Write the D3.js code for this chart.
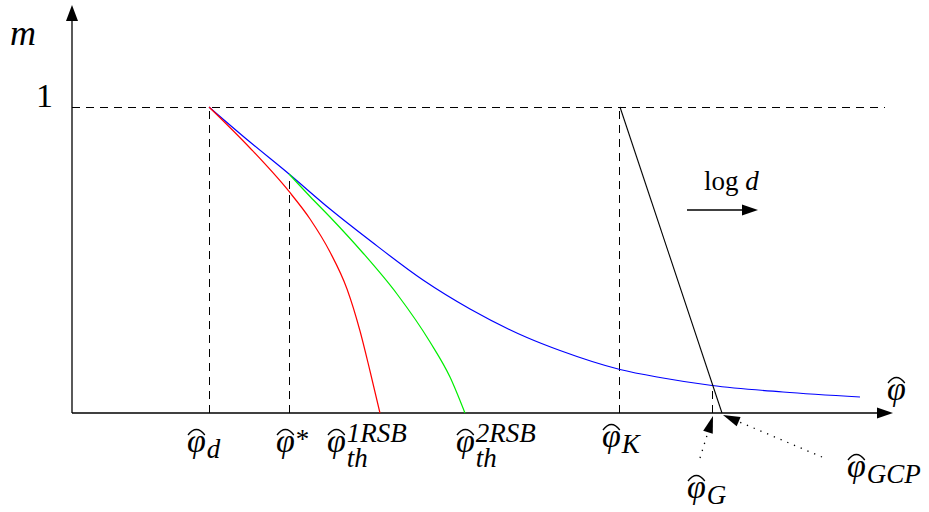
<!DOCTYPE html>
<html>
<head>
<meta charset="utf-8">
<script src="https://cdn.jsdelivr.net/npm/d3@7"></script>
<style>
  body { margin: 0; background: #fff; }
  text { font-family: "Liberation Serif", "DejaVu Serif", serif; fill: #000; }
</style>
</head>
<body>
<div id="chart"></div>
<script>
// m versus reduced packing fraction (schematic)
var blueCurve = [
  [0.1675, 1.0], [0.2176, 0.8856], [0.2653, 0.7810], [0.3154, 0.6667],
  [0.3643, 0.5637], [0.4291, 0.4346], [0.4866, 0.3399], [0.5562, 0.2467],
  [0.5966, 0.2042], [0.6699, 0.1422], [0.7188, 0.1160], [0.7824, 0.0899],
  [0.8692, 0.0686], [0.9633, 0.0523]
]
var redCurve = [
  [0.1675, 1.0], [0.2176, 0.8660], [0.2653, 0.7239], [0.2910, 0.6340],
  [0.3154, 0.5261], [0.3362, 0.4052], [0.3521, 0.2680], [0.3643, 0.1373],
  [0.3765, 0.0]
]
var greenCurve = [
  [0.2653, 0.7810], [0.2910, 0.7075], [0.3154, 0.6405], [0.3557, 0.5229],
  [0.3973, 0.3889], [0.4377, 0.2320], [0.4621, 0.1176], [0.4804, 0.0]
]

var phiD = 0.1675
var phiStar = 0.2653
var phiTh1 = 0.3765
var phiTh2 = 0.4804
var phiK = 0.6699
var phiG = 0.7824
var phiGCP = 0.7946

// dashed guides: [phi, top m]
var guides = [[phiD, 1.0], [phiStar, 0.7810], [phiK, 1.0], [phiG, 0.0899]]
var kauzmannLine = [[phiK, 1.0], [phiGCP, 0.0]]

var width = 929
var height = 512

var x = d3.scaleLinear().domain([0, 1]).range([72, 890])
var y = d3.scaleLinear().domain([0, 1]).range([413, 107])

var svg = d3.select('#chart').append('svg')
  .attr('width', width)
  .attr('height', height)

function arrowHead (tip, dir, len, half) {
  var n = Math.sqrt(dir[0] * dir[0] + dir[1] * dir[1])
  var ux = dir[0] / n
  var uy = dir[1] / n
  var bx = tip[0] - ux * len
  var by = tip[1] - uy * len
  svg.append('path')
    .attr('d', 'M' + tip[0] + ',' + tip[1] +
      'L' + (bx - uy * half) + ',' + (by + ux * half) +
      'L' + (bx + uy * half) + ',' + (by - ux * half) + 'Z')
    .attr('fill', '#000')
}

// dashed m = 1 line
svg.append('line')
  .attr('x1', x(0)).attr('x2', x(0.994))
  .attr('y1', y(1)).attr('y2', y(1))
  .attr('stroke', '#000').attr('stroke-width', 1)
  .attr('shape-rendering', 'crispEdges')
  .attr('stroke-dasharray', '8,6')

svg.selectAll('.guide')
  .data(guides)
  .enter().append('line')
  .attr('class', 'guide')
  .attr('x1', function (d) { return x(d[0]) })
  .attr('x2', function (d) { return x(d[0]) })
  .attr('y1', y(0))
  .attr('y2', function (d) { return y(d[1]) })
  .attr('stroke', '#000').attr('stroke-width', 1)
  .attr('shape-rendering', 'crispEdges')
  .attr('stroke-dasharray', '8,6')

// axes
svg.append('line')
  .attr('x1', x(0)).attr('x2', x(0))
  .attr('y1', y(0)).attr('y2', 18)
  .attr('stroke', '#000').attr('stroke-width', 1.3)
arrowHead([x(0), 5], [0, -1], 16, 6)

svg.append('line')
  .attr('x1', x(0)).attr('x2', 880)
  .attr('y1', y(0)).attr('y2', y(0))
  .attr('stroke', '#000').attr('stroke-width', 1.3)
arrowHead([893, y(0)], [1, 0], 16, 5.5)

var line = d3.line()
  .x(function (d) { return x(d[0]) })
  .y(function (d) { return y(d[1]) })
  .curve(d3.curveMonotoneX)

svg.append('path').datum(blueCurve)
  .attr('d', line).attr('fill', 'none')
  .attr('stroke', '#0000ff').attr('stroke-width', 1.2)
svg.append('path').datum(redCurve)
  .attr('d', line).attr('fill', 'none')
  .attr('stroke', '#ff0000').attr('stroke-width', 1.2)
svg.append('path').datum(greenCurve)
  .attr('d', line).attr('fill', 'none')
  .attr('stroke', '#00ee00').attr('stroke-width', 1.2)
svg.append('path').datum(kauzmannLine)
  .attr('d', line.curve(d3.curveLinear)).attr('fill', 'none')
  .attr('stroke', '#000').attr('stroke-width', 1.1)

// axis texts
svg.append('text')
  .attr('x', 10).attr('y', 45)
  .attr('font-size', 36).attr('font-style', 'italic')
  .text('m')
svg.append('text')
  .attr('x', 53).attr('y', 107)
  .attr('text-anchor', 'end')
  .attr('font-size', 34)
  .text('1')

// log d arrow
svg.append('line')
  .attr('x1', 687).attr('x2', 745)
  .attr('y1', 210).attr('y2', 210)
  .attr('stroke', '#000').attr('stroke-width', 1.3)
arrowHead([758, 210], [1, 0], 16, 5.5)
var logd = svg.append('text')
  .attr('x', 704).attr('y', 190)
  .attr('font-size', 27)
logd.append('tspan').text('log ')
logd.append('tspan').attr('font-style', 'italic').text('d')

// phi labels: [tick phi, dx, baseline, sub, subDy, sup, supDy]
var phiLabels = [
  [phiD, -22, 452, 'd', 6, '', 0],
  [phiStar, -13, 452, '', 0, '*', -4],
  [phiTh1, -53, 452, 'th', 15, '1RSB', -10],
  [phiTh2, -9, 452, 'th', 15, '2RSB', -10],
  [phiK, -18, 447, 'K', 6, '', 0],
  [phiG, -25, 498, 'G', 6, '', 0],
  [phiGCP, 125, 477, 'GCP', 6, '', 0],
  [1, -3, 400, '', 0, '', 0]
]

phiLabels.forEach(function (l) {
  var left = x(l[0]) + l[1]
  var base = l[2]
  var phi = svg.append('text')
    .attr('x', left).attr('y', base)
    .attr('font-size', 34).attr('font-style', 'italic')
    .text('\u03C6')
  var w = phi.node().getComputedTextLength()
  svg.append('path')
    .attr('d', 'M' + (left + 1) + ',' + (base - 17) +
      'Q' + (left + w * 0.5) + ',' + (base - 28) + ' ' + (left + w - 1) + ',' + (base - 17))
    .attr('fill', 'none').attr('stroke', '#000').attr('stroke-width', 1.3)
  if (l[3]) {
    svg.append('text')
      .attr('x', left + w + 1).attr('y', base + l[4])
      .attr('font-size', 27).attr('font-style', 'italic')
      .text(l[3])
  }
  if (l[5]) {
    svg.append('text')
      .attr('x', left + w + 1).attr('y', base + l[6])
      .attr('font-size', 27).attr('font-style', l[5] === '*' ? 'normal' : 'italic')
      .text(l[5])
  }
})

// dotted pointers to phi_G and phi_GCP
var pointers = [
  [[700, 458], [x(phiG) + 1, 416]],
  [[822, 457], [x(phiGCP) + 1, 415]]
]
pointers.forEach(function (p) {
  var dir = [p[1][0] - p[0][0], p[1][1] - p[0][1]]
  var n = Math.sqrt(dir[0] * dir[0] + dir[1] * dir[1])
  svg.append('line')
    .attr('x1', p[0][0]).attr('y1', p[0][1])
    .attr('x2', p[1][0] - dir[0] / n * 14).attr('y2', p[1][1] - dir[1] / n * 14)
    .attr('stroke', '#000').attr('stroke-width', 1.3)
    .attr('stroke-dasharray', '1.3,6')
  arrowHead(p[1], dir, 17, 5)
})
</script>
</body>
</html>
